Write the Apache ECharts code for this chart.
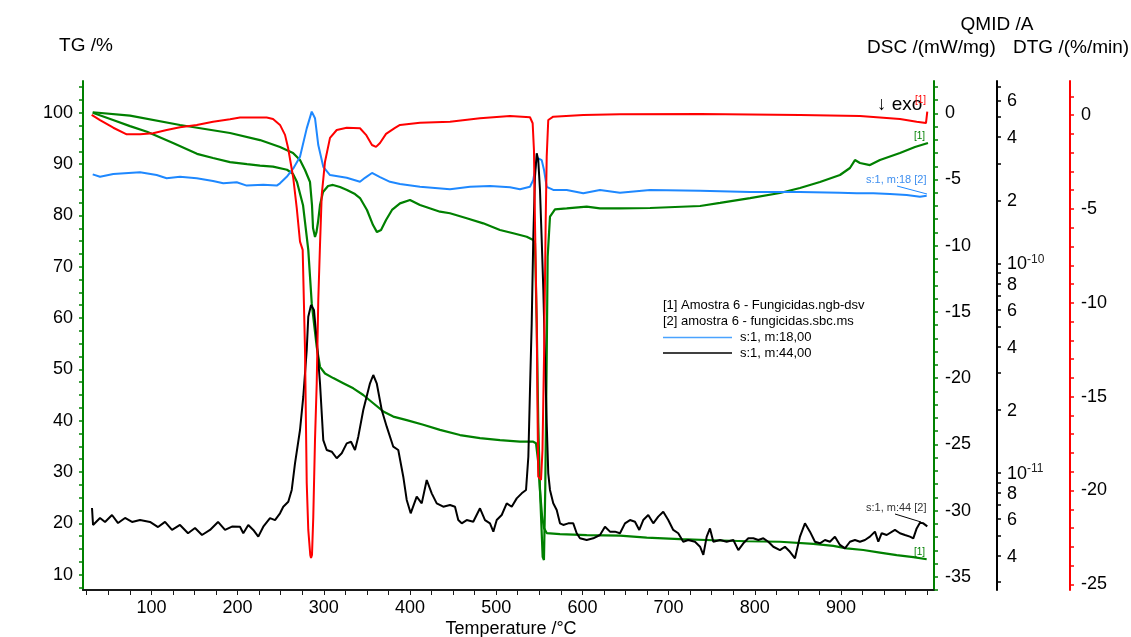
<!DOCTYPE html>
<html><head><meta charset="utf-8">
<script src="https://cdn.jsdelivr.net/npm/echarts@6/dist/echarts.min.js"></script>
<style>html,body{margin:0;padding:0;background:#fff}#c{width:1131px;height:637px}</style>
</head><body><div id="c"></div>
<script>
// ---------- data (temperature in °C) ----------
const tgT = [31.9,55.5,75.2,94.9,125.1,152.9,171.5,191.2,210.9,226.0,241.1,257.3,264.3,268.9,275.9,282.0,284.0,286.0,288.6,291.8,295.6,301.4,311.0,322.6,334.2,345.8,357.4,369.0,380.6,396.2,415.4,434.8,458.0,481.2,504.4,527.6,543.0,546.2,548.5,550.8,553.1,555.4,558.6,574.0,605.0,643.6,674.6,713.2,751.9,790.6,829.2,867.9,891.1,906.6,925.9,945.2,964.6,983.9,999.4];
const tgV = [100.0,98.6,97.4,96.3,94.1,92.0,91.2,90.4,90.0,89.7,89.5,88.9,88.1,86.5,82.0,73.3,68.1,62.9,59.0,54.4,50.5,49.2,48.3,47.3,46.3,45.0,43.4,41.8,40.8,40.1,39.2,38.2,37.2,36.6,36.2,35.9,35.9,35.6,32.3,26.5,21.6,19.1,18.1,17.9,17.7,17.6,17.2,16.9,16.7,16.5,16.4,16.0,15.6,15.1,14.8,14.3,13.8,13.4,13.0];

const dscT = [31.9,75.2,133.2,191.2,226.0,249.2,264.3,272.4,278.2,284.0,286.3,287.5,289.8,291.5,293.3,295.6,299.1,304.9,310.7,318.8,326.9,336.2,342.0,350.1,357.1,361.7,366.4,372.2,379.1,388.4,400.0,411.6,434.8,446.4,465.8,485.0,504.4,519.8,535.4,543.0,545.0,547.0,548.8,550.8,553.9,555.4,556.9,558.6,559.7,562.4,568.2,581.8,605.0,620.4,643.6,678.5,736.5,759.7,794.5,829.2,852.4,875.6,898.8,910.4,916.2,922.0,933.6,945.2,968.4,985.8,1000.9];
const dscV = [0.08,-0.18,-0.88,-1.49,-2.02,-2.55,-3.00,-3.53,-4.28,-5.19,-6.93,-8.66,-9.34,-8.97,-8.21,-6.93,-5.94,-5.49,-5.41,-5.57,-5.79,-6.10,-6.40,-7.30,-8.44,-8.97,-8.81,-8.06,-7.30,-6.80,-6.55,-6.93,-7.43,-7.55,-7.93,-8.31,-8.81,-9.06,-9.32,-9.57,-9.82,-15.84,-23.39,-28.45,-33.49,-33.74,-28.45,-18.38,-10.83,-7.81,-7.25,-7.18,-7.05,-7.18,-7.18,-7.15,-7.00,-6.77,-6.40,-6.02,-5.64,-5.19,-4.66,-4.13,-3.53,-3.75,-3.91,-3.53,-3.00,-2.55,-2.24];

const dtgT = [30.7,40.4,55.8,71.3,86.8,101.9,117.7,133.2,152.6,171.5,191.2,202.8,217.9,233.8,241.1,249.2,255.0,258.6,264.6,268.6,272.4,275.5,278.2,280.2,282.0,284.3,285.2,286.3,287.8,289.8,291.8,293.6,295.6,297.6,301.4,307.2,315.0,326.6,342.0,349.0,355.9,360.6,365.2,372.2,382.6,388.4,411.6,446.4,481.2,516.0,539.2,542.3,543.8,545.0,547.0,548.1,548.8,552.0,553.7,555.5,557.4,558.6,560.4,566.2,601.0,643.6,736.5,852.4,922.0,968.4,987.8,998.6,1000.1];
const dtgV = [0.01,-0.26,-0.67,-1.02,-1.02,-0.96,-0.79,-0.64,-0.52,-0.35,-0.22,-0.13,-0.13,-0.13,-0.20,-0.52,-1.05,-1.75,-3.35,-4.94,-6.74,-7.18,-12.51,-19.60,-22.10,-23.43,-23.59,-23.43,-21.41,-17.30,-14.27,-9.85,-6.92,-4.25,-2.48,-1.21,-0.79,-0.67,-0.70,-1.05,-1.59,-1.69,-1.48,-1.00,-0.68,-0.52,-0.40,-0.35,-0.17,-0.04,-0.11,-0.43,-1.85,-5.74,-11.07,-16.40,-19.26,-19.43,-17.84,-12.87,-5.74,-2.21,-0.26,-0.08,0.01,0.05,0.06,0.01,-0.04,-0.20,-0.35,-0.42,0.19];

// QMID ion currents (A)
const m18T = [31.9,40.4,55.8,86.8,106.1,117.7,133.2,152.6,171.5,183.4,199.0,210.6,229.8,245.4,249.2,257.0,264.6,272.4,280.2,286.0,289.8,293.6,299.4,307.2,326.6,342.0,347.8,355.9,365.2,376.8,388.4,411.6,446.4,469.6,492.8,516.0,527.6,539.2,543.0,546.2,548.8,552.8,555.5,558.6,566.2,581.8,601.0,620.4,643.6,678.5,736.5,794.5,852.4,898.8,918.2,937.5,956.8,976.2,991.6,999.4];
const m18V = [2.66e-10,2.59e-10,2.67e-10,2.72e-10,2.64e-10,2.55e-10,2.59e-10,2.55e-10,2.47e-10,2.41e-10,2.44e-10,2.35e-10,2.37e-10,2.35e-10,2.41e-10,2.59e-10,2.84e-10,3.23e-10,4.41e-10,5.30e-10,4.93e-10,3.67e-10,2.89e-10,2.64e-10,2.56e-10,2.45e-10,2.56e-10,2.70e-10,2.58e-10,2.45e-10,2.39e-10,2.32e-10,2.26e-10,2.32e-10,2.34e-10,2.31e-10,2.26e-10,2.32e-10,2.50e-10,3.00e-10,3.17e-10,3.11e-10,2.79e-10,2.32e-10,2.24e-10,2.24e-10,2.16e-10,2.24e-10,2.17e-10,2.24e-10,2.22e-10,2.19e-10,2.19e-10,2.17e-10,2.16e-10,2.16e-10,2.14e-10,2.12e-10,2.08e-10,2.10e-10];

const m44T = [31.1,32.3,40.4,46.2,54.3,61.3,69.4,77.5,86.8,98.4,107.7,115.8,123.9,133.2,142.5,150.6,158.7,168.0,177.3,185.4,193.5,202.8,206.6,212.4,218.2,224.0,229.8,237.6,243.4,249.2,253.0,258.8,262.8,266.6,272.4,276.2,280.2,282.0,285.2,288.6,291.8,295.6,299.4,303.4,309.2,315.0,320.8,326.6,331.6,336.2,340.0,345.8,353.6,357.4,361.4,367.2,373.0,380.6,386.4,392.2,396.2,400.8,407.8,413.6,419.4,425.2,431.0,438.6,446.4,452.2,456.0,460.0,465.8,473.4,481.2,487.0,492.8,496.7,500.6,506.4,512.2,518.0,523.8,529.6,534.6,537.3,539.2,541.2,543.0,545.0,547.0,548.8,550.8,552.8,554.7,556.6,558.6,560.4,562.4,566.2,570.2,574.0,577.8,583.6,589.4,593.4,597.2,605.0,612.6,620.4,626.2,632.0,637.8,643.6,649.4,655.2,661.0,666.0,670.6,676.4,682.2,688.0,693.8,699.6,705.4,711.2,717.0,722.8,730.6,736.5,740.3,744.2,748.0,751.9,759.7,767.4,775.1,780.9,786.7,792.5,798.3,804.1,809.9,815.7,821.5,829.2,835.0,840.8,846.6,852.4,858.2,864.0,869.8,875.6,881.4,887.2,893.0,898.8,904.6,910.4,916.2,922.0,927.8,933.6,939.4,943.3,947.2,953.0,962.6,968.4,974.2,980.0,983.9,987.8,991.6,995.5,1000.1];
const m44V = [6.78e-12,5.63e-12,6.08e-12,5.82e-12,6.28e-12,5.75e-12,6.08e-12,5.82e-12,5.94e-12,5.82e-12,5.50e-12,5.82e-12,5.33e-12,5.63e-12,5.14e-12,5.44e-12,5.04e-12,5.33e-12,5.82e-12,5.33e-12,5.53e-12,5.52e-12,5.14e-12,5.63e-12,5.33e-12,4.95e-12,5.52e-12,6.07e-12,5.94e-12,6.40e-12,6.88e-12,7.27e-12,8.27e-12,1.109e-11,1.599e-11,2.306e-11,3.855e-11,5.559e-11,6.323e-11,5.984e-11,4.302e-11,2.673e-11,1.432e-11,1.284e-11,1.260e-11,1.172e-11,1.238e-11,1.381e-11,1.406e-11,1.284e-11,1.486e-11,1.993e-11,2.673e-11,2.928e-11,2.673e-11,1.993e-11,1.659e-11,1.331e-11,1.284e-11,9.57e-12,7.41e-12,6.40e-12,7.68e-12,7.14e-12,9.23e-12,7.97e-12,7.14e-12,6.88e-12,7.01e-12,6.88e-12,5.94e-12,5.73e-12,5.94e-12,5.83e-12,6.76e-12,5.94e-12,5.73e-12,5.23e-12,5.94e-12,6.28e-12,7.14e-12,6.88e-12,7.54e-12,7.97e-12,8.27e-12,1.192e-11,2.483e-11,5.169e-11,1.292e-10,2.593e-10,3.352e-10,3.113e-10,2.239e-10,1.292e-10,7.458e-11,3.581e-11,1.721e-11,9.93e-12,8.27e-12,7.14e-12,6.64e-12,5.73e-12,5.63e-12,5.73e-12,5.73e-12,5.14e-12,4.86e-12,4.77e-12,4.86e-12,5.04e-12,5.52e-12,5.23e-12,5.23e-12,5.14e-12,5.73e-12,5.94e-12,5.83e-12,5.33e-12,5.94e-12,6.28e-12,5.73e-12,6.17e-12,6.51e-12,5.94e-12,5.33e-12,5.14e-12,4.68e-12,4.77e-12,4.68e-12,4.43e-12,4.05e-12,4.95e-12,5.42e-12,4.68e-12,4.77e-12,4.68e-12,4.77e-12,4.27e-12,4.60e-12,4.86e-12,4.86e-12,4.77e-12,4.86e-12,4.68e-12,4.43e-12,4.27e-12,4.43e-12,4.19e-12,3.90e-12,4.95e-12,5.73e-12,5.23e-12,4.68e-12,4.60e-12,4.77e-12,4.68e-12,4.95e-12,4.52e-12,4.35e-12,4.68e-12,4.77e-12,4.68e-12,4.77e-12,4.95e-12,5.23e-12,4.68e-12,5.14e-12,5.04e-12,5.33e-12,5.14e-12,5.04e-12,4.95e-12,4.86e-12,5.42e-12,5.77e-12,5.73e-12,5.54e-12];

// ---------- tick labels ----------
const xLabels = [100,200,300,400,500,600,700,800,900];
const xTicks = [25,50,75,100,125,150,175,200,225,250,275,300,325,350,375,400,425,450,475,500,525,550,575,600,625,650,675,700,725,750,775,800,825,850,875,900,925,950,975,1000];
const tgLabels = [10,20,30,40,50,60,70,80,90,100];
const tgTicks = [7.5,10,12.5,15,17.5,20,22.5,25,27.5,30,32.5,35,37.5,40,42.5,45,47.5,50,52.5,55,57.5,60,62.5,65,67.5,70,72.5,75,77.5,80,82.5,85,87.5,90,92.5,95,97.5,100,102.5,105];
const dscLabels = [-35,-30,-25,-20,-15,-10,-5,0];
const dscTicks = [-36,-35,-34,-33,-32,-31,-30,-29,-28,-27,-26,-25,-24,-23,-22,-21,-20,-19,-18,-17,-16,-15,-14,-13,-12,-11,-10,-9,-8,-7,-6,-5,-4,-3,-2,-1,0,1,2];
const dtgLabels = [-25,-20,-15,-10,-5,0];
const dtgTicks = [-25,-24,-23,-22,-21,-20,-19,-18,-17,-16,-15,-14,-13,-12,-11,-10,-9,-8,-7,-6,-5,-4,-3,-2,-1,0,1];
const qmidLabels = [4e-12,6e-12,8e-12,1e-11,2e-11,4e-11,6e-11,8e-11,1e-10,2e-10,4e-10,6e-10];
const qmidTicks = [3e-12,4e-12,5e-12,6e-12,7e-12,8e-12,9e-12,1e-11,2e-11,3e-11,4e-11,5e-11,6e-11,7e-11,8e-11,9e-11,1e-10,2e-10,3e-10,4e-10,5e-10,6e-10,7e-10];

// ---------- chart ----------
const FONT = 'Liberation Sans, Arial, sans-serif';
const zip = (a, b) => a.map((t, i) => [t, b[i]]);
const QMIN = 2.7531e-12, QMAX = 7.424e-10;
const GREEN = '#008000', RED = '#ff0000', BLUE = '#1e88ff';

function yAx(o) {
  return Object.assign({
    type: 'value', splitLine: { show: false }, minorTick: { show: false },
    axisLine: { show: true, onZero: false, lineStyle: { width: 2 } },
  }, o);
}

const option = {
  animation: false,
  backgroundColor: '#fff',
  grid: { left: 83, right: 197, top: 81, bottom: 47, containLabel: false, outerBoundsMode: 'none' },
  xAxis: {
    type: 'value', min: 20.65, max: 1007.9,
    splitLine: { show: false },
    axisLine: { show: true, onZero: false, lineStyle: { color: '#1a1a1a', width: 2 } },
    axisTick: { show: true, customValues: xTicks, length: 5, lineStyle: { color: '#1a1a1a', width: 1 } },
    axisLabel: { customValues: xLabels, fontSize: 18, color: '#000', margin: 9, fontFamily: FONT }
  },
  yAxis: [
    yAx({ position: 'left', min: 7.0, max: 106.2,
      axisLine: { show: true, onZero: false, lineStyle: { color: GREEN, width: 2 } },
      axisTick: { show: true, customValues: tgTicks, length: 4, lineStyle: { color: GREEN, width: 1.5 } },
      axisLabel: { customValues: tgLabels, fontSize: 18, color: '#000', margin: 10, fontFamily: FONT } }),
    yAx({ position: 'right', offset: 0, min: -36.0, max: 2.44,
      axisLine: { show: true, onZero: false, lineStyle: { color: GREEN, width: 2 } },
      axisTick: { show: true, customValues: dscTicks, length: 4, lineStyle: { color: GREEN, width: 1.5 } },
      axisLabel: { customValues: dscLabels, fontSize: 18, color: '#000', margin: 11, fontFamily: FONT } }),
    { type: 'log', logBase: 10, position: 'right', offset: 63, min: QMIN, max: QMAX,
      splitLine: { show: false }, minorTick: { show: false }, minorSplitLine: { show: false },
      axisLine: { show: true, onZero: false, lineStyle: { color: '#000', width: 2 } },
      axisTick: { show: false }, axisLabel: { show: false } },
    yAx({ position: 'right', offset: 63, min: Math.log10(QMIN), max: Math.log10(QMAX),
      axisLine: { show: false },
      axisTick: { show: true, customValues: qmidTicks.map(Math.log10), length: 4, lineStyle: { color: '#000', width: 1.5 } },
      axisLabel: { customValues: qmidLabels.map(Math.log10), fontSize: 18, color: '#000', margin: 10, fontFamily: FONT,
        formatter: function (v) {
          const e = Math.floor(v + 1e-6);
          const m = Math.round(Math.pow(10, v - e));
          if (m === 1) return '{a|10}{b|' + e + '}';
          return '{a|' + m + '}';
        },
        rich: {
          a: { fontSize: 18, lineHeight: 20, verticalAlign: 'bottom', color: '#000', fontFamily: FONT },
          b: { fontSize: 12, lineHeight: 12, verticalAlign: 'top', color: '#222', fontFamily: FONT }
        } } }),
    yAx({ position: 'right', offset: 136, min: -25.3, max: 1.82,
      axisLine: { show: true, onZero: false, lineStyle: { color: RED, width: 2 } },
      axisTick: { show: true, customValues: dtgTicks, length: 4, lineStyle: { color: RED, width: 1.5 } },
      axisLabel: { customValues: dtgLabels, fontSize: 18, color: '#000', margin: 11, fontFamily: FONT } })
  ],
  series: [
    { name: 'TG', type: 'line', yAxisIndex: 0, data: zip(tgT, tgV), showSymbol: false, symbol: 'none',
      lineStyle: { color: GREEN, width: 2.2 }, z: 2 },
    { name: 'DSC', type: 'line', yAxisIndex: 1, data: zip(dscT, dscV), showSymbol: false, symbol: 'none',
      lineStyle: { color: GREEN, width: 2.2 }, z: 2 },
    { name: 's:1, m:18,00', type: 'line', yAxisIndex: 2, data: zip(m18T, m18V), showSymbol: false, symbol: 'none',
      lineStyle: { color: BLUE, width: 2 }, z: 3 },
    { name: 's:1, m:44,00', type: 'line', yAxisIndex: 2, data: zip(m44T, m44V), showSymbol: false, symbol: 'none',
      lineStyle: { color: '#000', width: 2 }, z: 3 },
    { name: 'DTG', type: 'line', yAxisIndex: 4, data: zip(dtgT, dtgV), showSymbol: false, symbol: 'none',
      lineStyle: { color: RED, width: 2 }, z: 4 }
  ],
  graphic: { elements: [
    { type: 'text', x: 86, y: 46, style: { text: 'TG /%', font: '19px ' + FONT, fill: '#000', textAlign: 'center', textVerticalAlign: 'middle' } },
    { type: 'text', x: 997, y: 25, style: { text: 'QMID /A', font: '19px ' + FONT, fill: '#000', textAlign: 'center', textVerticalAlign: 'middle' } },
    { type: 'text', x: 867, y: 48, style: { text: 'DSC /(mW/mg)', font: '19px ' + FONT, fill: '#000', textAlign: 'left', textVerticalAlign: 'middle' } },
    { type: 'text', x: 1013, y: 48, style: { text: 'DTG /(%/min)', font: '19px ' + FONT, fill: '#000', textAlign: 'left', textVerticalAlign: 'middle' } },
    { type: 'text', x: 511, y: 629, style: { text: 'Temperature /°C', font: '18px ' + FONT, fill: '#000', textAlign: 'center', textVerticalAlign: 'middle' } },
    { type: 'text', x: 877, y: 105, style: { text: '↓ exo', font: '19px ' + FONT, fill: '#000', textAlign: 'left', textVerticalAlign: 'middle' } },
    { type: 'text', x: 915, y: 100, style: { text: '[1]', font: '10px ' + FONT, fill: RED, textAlign: 'left', textVerticalAlign: 'middle' } },
    { type: 'text', x: 914, y: 136, style: { text: '[1]', font: '10px ' + FONT, fill: GREEN, textAlign: 'left', textVerticalAlign: 'middle' } },
    { type: 'text', x: 914, y: 552, style: { text: '[1]', font: '10px ' + FONT, fill: GREEN, textAlign: 'left', textVerticalAlign: 'middle' } },
    { type: 'text', x: 866, y: 180, style: { text: 's:1, m:18 [2]', font: '11px ' + FONT, fill: '#3f8fef', textAlign: 'left', textVerticalAlign: 'middle' } },
    { type: 'line', shape: { x1: 897, y1: 186, x2: 927, y2: 194 }, style: { stroke: BLUE, lineWidth: 1 } },
    { type: 'text', x: 866, y: 508, style: { text: 's:1, m:44 [2]', font: '11px ' + FONT, fill: '#333', textAlign: 'left', textVerticalAlign: 'middle' } },
    { type: 'line', shape: { x1: 895, y1: 514, x2: 921, y2: 522 }, style: { stroke: '#000', lineWidth: 1 } },
    { type: 'text', x: 663, y: 305, style: { text: '[1] Amostra 6 - Fungicidas.ngb-dsv', font: '13px ' + FONT, fill: '#000', textAlign: 'left', textVerticalAlign: 'middle' } },
    { type: 'text', x: 663, y: 321, style: { text: '[2] amostra 6 - fungicidas.sbc.ms', font: '13px ' + FONT, fill: '#000', textAlign: 'left', textVerticalAlign: 'middle' } },
    { type: 'line', shape: { x1: 663, y1: 337.5, x2: 732, y2: 337.5 }, style: { stroke: '#4aa3ff', lineWidth: 1.5 } },
    { type: 'text', x: 740, y: 337, style: { text: 's:1, m:18,00', font: '13px ' + FONT, fill: '#000', textAlign: 'left', textVerticalAlign: 'middle' } },
    { type: 'line', shape: { x1: 663, y1: 353, x2: 732, y2: 353 }, style: { stroke: '#000', lineWidth: 1.5 } },
    { type: 'text', x: 740, y: 353, style: { text: 's:1, m:44,00', font: '13px ' + FONT, fill: '#000', textAlign: 'left', textVerticalAlign: 'middle' } }
  ] }
};

const chart = echarts.init(document.getElementById('c'), null, { renderer: 'canvas' });
chart.setOption(option);
</script>
</body></html>
